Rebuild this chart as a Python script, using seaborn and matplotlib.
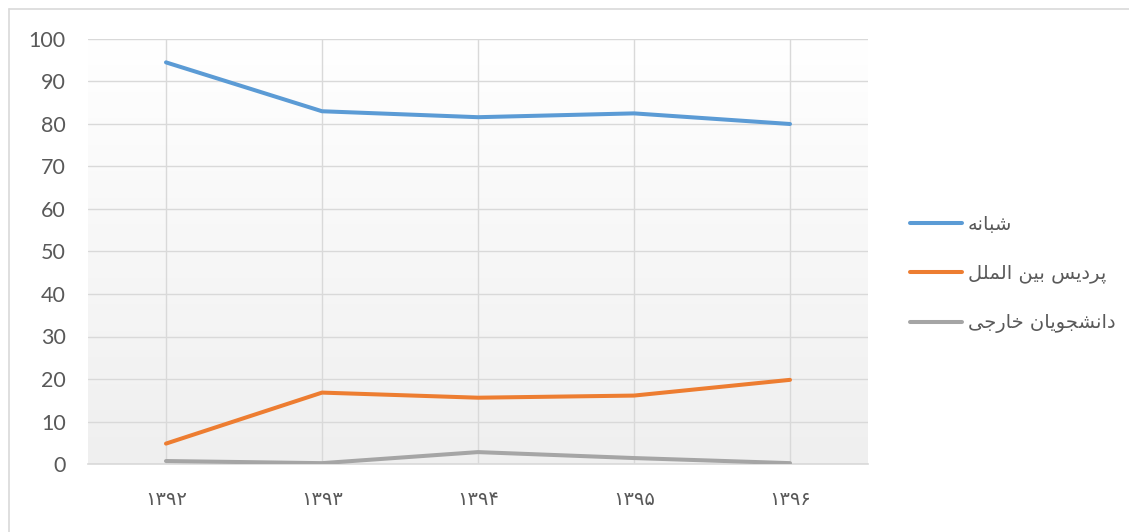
import numpy as np
import pandas as pd
import matplotlib
matplotlib.use("Agg")
import matplotlib.pyplot as plt
from matplotlib.lines import Line2D
import seaborn as sns

# ---- data ----
years = ["۱۳۹۲", "۱۳۹۳", "۱۳۹۴", "۱۳۹۵", "۱۳۹۶"]
series_names = ["شبانه", "پردیس بین الملل", "دانشجویان خارجی"]
evening = [94.5, 83.0, 81.6, 82.5, 80.0]
international_campus = [4.8, 16.8, 15.6, 16.1, 19.8]
foreign_students = [0.7, 0.2, 2.8, 1.4, 0.2]
y_ticks = [0, 10, 20, 30, 40, 50, 60, 70, 80, 90, 100]
colors = ["#5B9BD5", "#ED7D31", "#A5A5A5"]

# ---- minimal Arabic-script shaping (presentation forms, visual order) ----
FORMS = {
    "ا": ("\uFE8D", "\uFE8E"),
    "ب": ("\uFE8F", "\uFE90", "\uFE91", "\uFE92"),
    "پ": ("\uFB56", "\uFB57", "\uFB58", "\uFB59"),
    "ج": ("\uFE9D", "\uFE9E", "\uFE9F", "\uFEA0"),
    "خ": ("\uFEA5", "\uFEA6", "\uFEA7", "\uFEA8"),
    "د": ("\uFEA9", "\uFEAA"),
    "ر": ("\uFEAD", "\uFEAE"),
    "س": ("\uFEB1", "\uFEB2", "\uFEB3", "\uFEB4"),
    "ش": ("\uFEB5", "\uFEB6", "\uFEB7", "\uFEB8"),
    "ل": ("\uFEDD", "\uFEDE", "\uFEDF", "\uFEE0"),
    "م": ("\uFEE1", "\uFEE2", "\uFEE3", "\uFEE4"),
    "ن": ("\uFEE5", "\uFEE6", "\uFEE7", "\uFEE8"),
    "ه": ("\uFEE9", "\uFEEA", "\uFEEB", "\uFEEC"),
    "و": ("\uFEED", "\uFEEE"),
    "ی": ("\uFBFC", "\uFBFD", "\uFBFE", "\uFBFF"),
}


def shape_rtl(text):
    out = []
    n = len(text)
    for i, ch in enumerate(text):
        if ch not in FORMS:
            out.append(ch)
            continue
        forms = FORMS[ch]
        prev_joins = i > 0 and text[i - 1] in FORMS and len(FORMS[text[i - 1]]) == 4
        next_joins = len(forms) == 4 and i + 1 < n and text[i + 1] in FORMS
        if prev_joins and next_joins:
            out.append(forms[3])
        elif prev_joins:
            out.append(forms[1])
        elif next_joins:
            out.append(forms[2])
        else:
            out.append(forms[0])
    return "".join(out)[::-1]


# ---- long-form table ----
rows = []
for name, vals in zip(series_names, [evening, international_campus, foreign_students]):
    for i, v in enumerate(vals):
        rows.append({"pos": i, "value": v, "series": shape_rtl(name)})
df = pd.DataFrame(rows)

sns.set_theme(style="white")
plt.rcParams["font.family"] = ["Lato", "DejaVu Sans"]

W, H = 1129, 532
fig = plt.figure(figsize=(W / 100, H / 100), dpi=100)
ax = fig.add_axes([88 / W, (H - 464) / H, (868 - 88) / W, (464 - 39) / H])

# vertical gradient background of the plot area
grad = np.linspace(1.0, 0.0, 256).reshape(-1, 1)
top_c = np.array([1.0, 1.0, 1.0])
bot_c = np.array([0xEF, 0xEF, 0xEF]) / 255
img = top_c * grad[..., None] + bot_c * (1 - grad[..., None])
ax.imshow(img, extent=[0, 1, 0, 1], transform=ax.transAxes, aspect="auto", zorder=0)

sns.lineplot(
    data=df, x="pos", y="value", hue="series",
    palette=colors, linewidth=2.9, ax=ax, zorder=3,
    legend=True,
)
for line in ax.get_lines():
    line.set_solid_capstyle("round")
    line.set_solid_joinstyle("round")

ax.set_xlim(-0.5, 4.5)
ax.set_ylim(0, 100)
ax.set_yticks(y_ticks)
ax.set_xticks(range(len(years)))
ax.set_xticklabels(years, fontfamily=["DejaVu Sans"], fontsize=14, color="#595959")
ax.tick_params(axis="y", length=0, pad=16, labelsize=15.5, labelcolor="#595959")
ax.tick_params(axis="x", length=0, pad=19)
ax.set_xlabel("")
ax.set_ylabel("")

ax.grid(True, axis="both", color="#d9d9d9", linewidth=1.0, zorder=1)
ax.set_axisbelow(True)
for side in ["top", "right", "left"]:
    ax.spines[side].set_visible(False)
ax.spines["bottom"].set_color("#d9d9d9")
ax.spines["bottom"].set_linewidth(1.2)

leg = ax.legend(
    loc="center left", bbox_to_anchor=(892 / W, (H - 274) / H),
    bbox_transform=fig.transFigure, frameon=False,
    prop={"family": ["DejaVu Sans"], "size": 14},
    handlelength=2.7, handletextpad=0.3, labelspacing=1.55,
)
for t in leg.get_texts():
    t.set_color("#595959")
for h in leg.legend_handles:
    h.set_linewidth(2.9)
    h.set_solid_capstyle("round")

# outer chart frame
fig.add_artist(Line2D([9 / W, 1.01], [(H - 9) / H] * 2, color="#d9d9d9", lw=1.2))
fig.add_artist(Line2D([9 / W] * 2, [-0.01, (H - 9) / H], color="#d9d9d9", lw=1.2))

fig.savefig("out.png", dpi=100)
